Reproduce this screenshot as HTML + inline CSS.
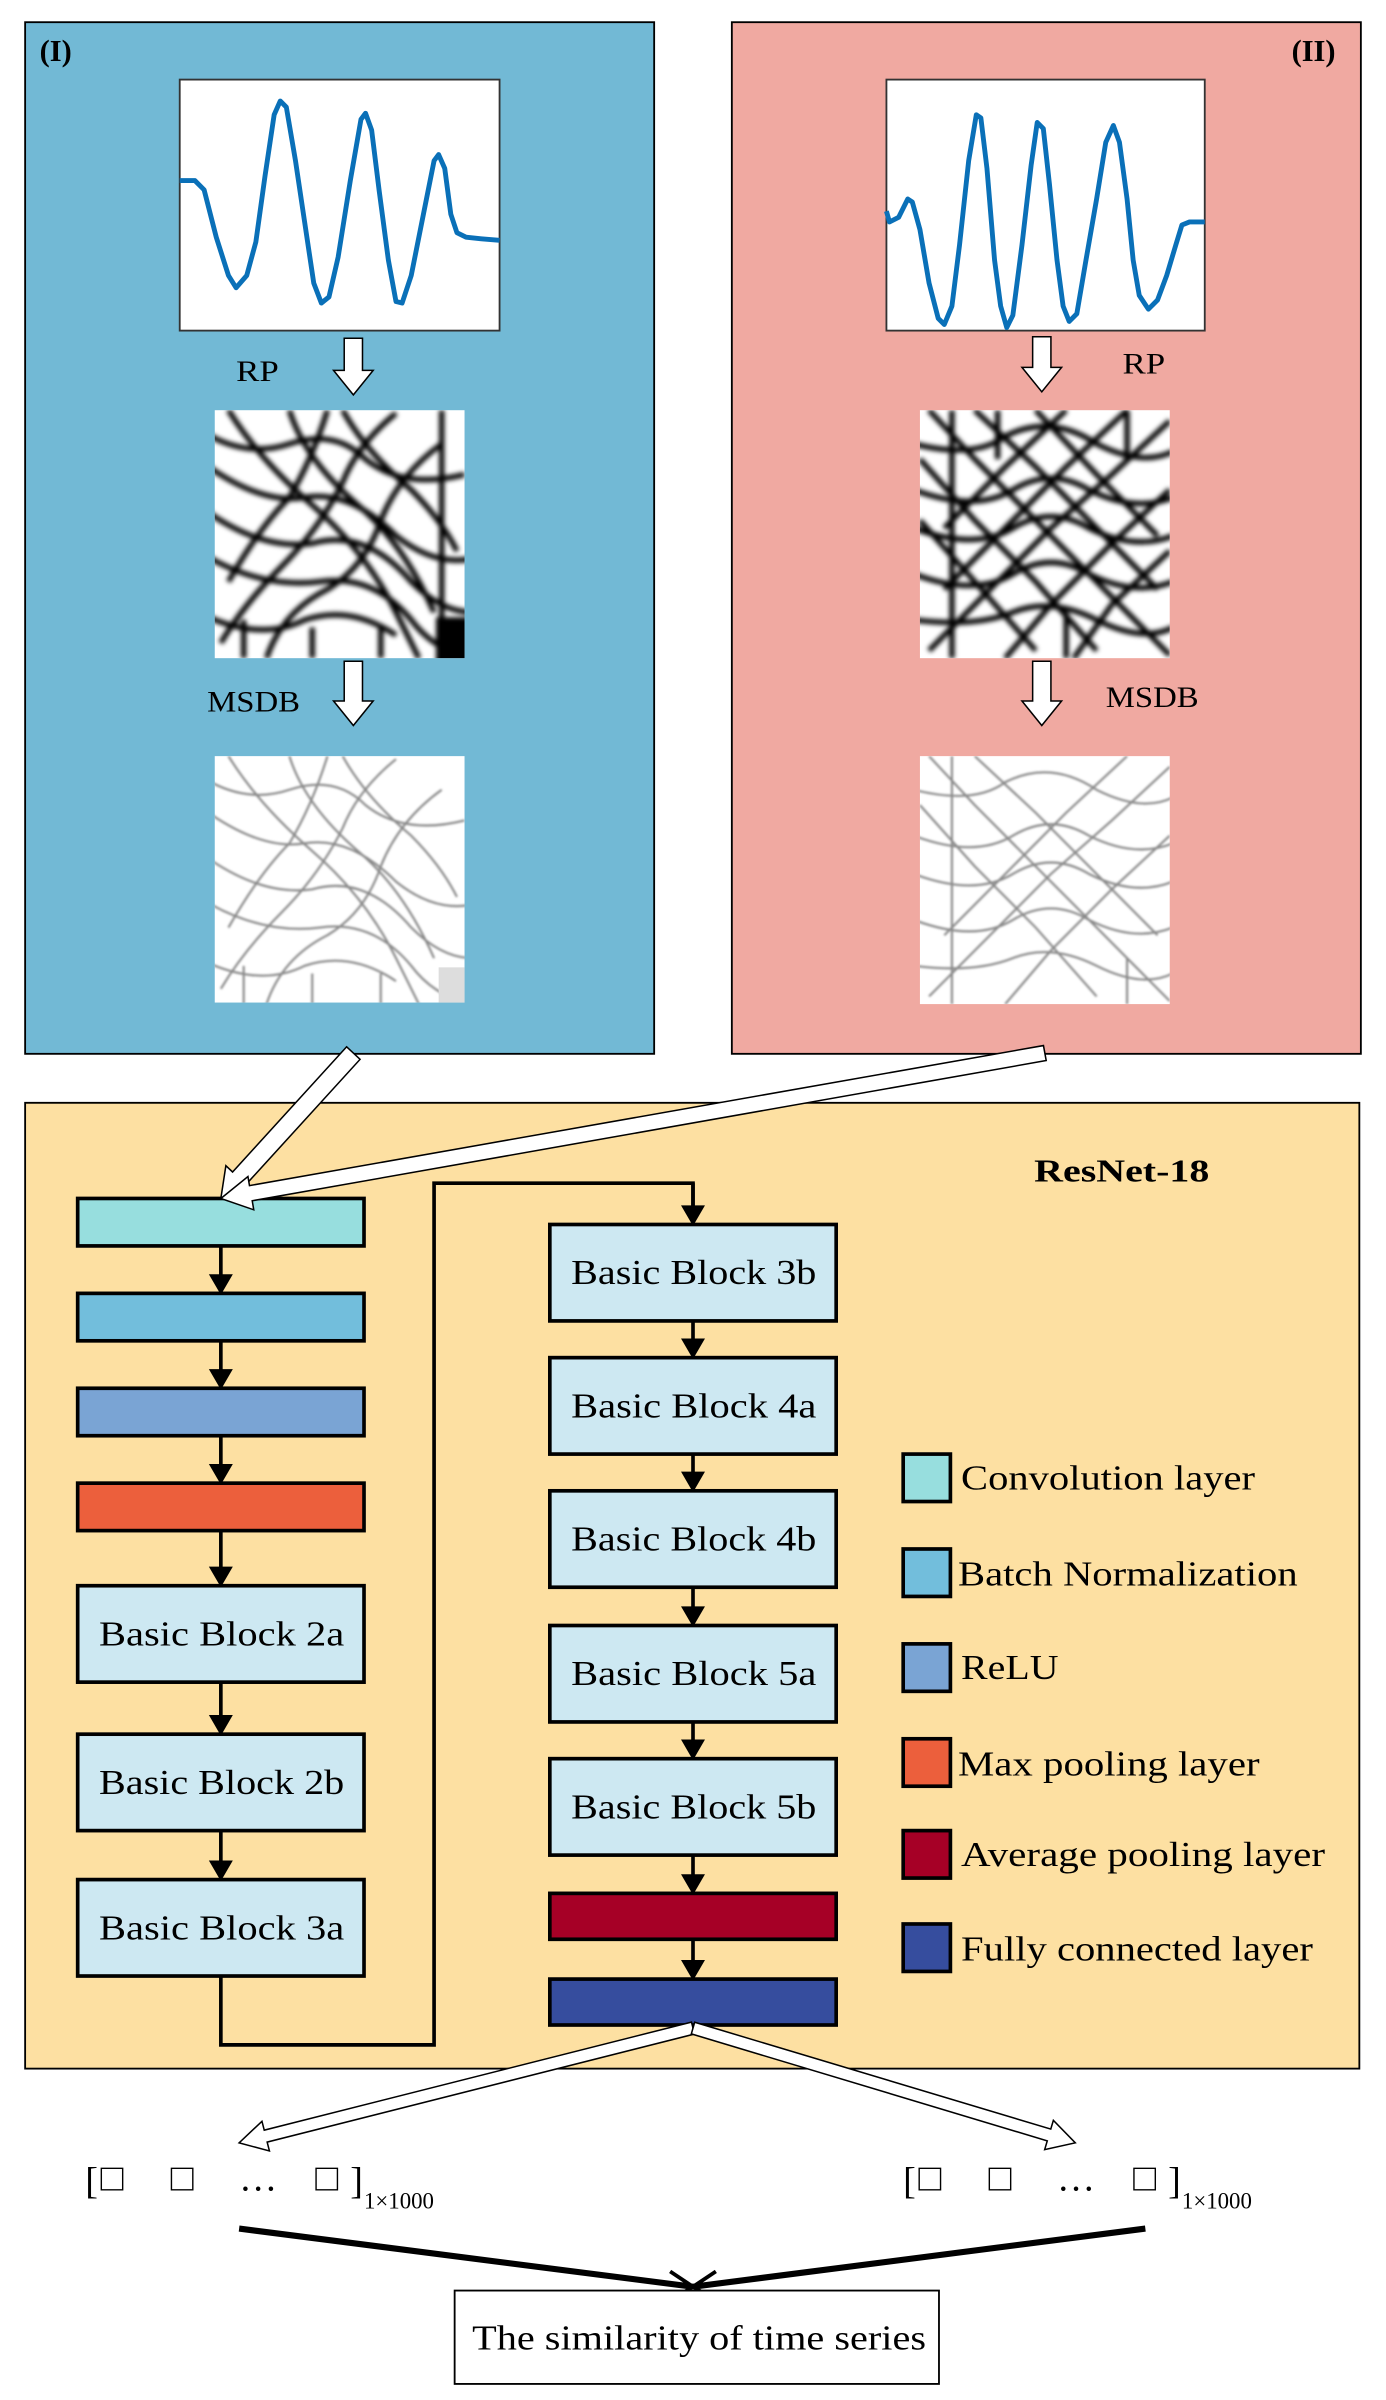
<!DOCTYPE html>
<html><head><meta charset="utf-8"><style>
html,body{margin:0;padding:0;background:#fff;}
svg{display:block;}
text{font-family:"Liberation Serif",serif;}
</style></head><body>
<svg id="s" width="1386" height="2400" viewBox="0 0 910 1568" preserveAspectRatio="none" xmlns="http://www.w3.org/2000/svg">
<defs>
<filter id="b1" x="-10%" y="-10%" width="120%" height="120%"><feGaussianBlur stdDeviation="1.6"/></filter>
<filter id="b2" x="-10%" y="-10%" width="120%" height="120%"><feGaussianBlur stdDeviation="0.7"/></filter>
<clipPath id="c1"><rect x="141" y="268" width="164" height="162"/></clipPath>
<clipPath id="c2"><rect x="141" y="494" width="164" height="161"/></clipPath>
<clipPath id="c3"><rect x="604" y="268" width="164" height="162"/></clipPath>
<clipPath id="c4"><rect x="604" y="494" width="164" height="162"/></clipPath>
</defs>
<!-- panels -->
<rect x="16.5" y="14.5" width="413" height="674" fill="#72b9d5" stroke="#000" stroke-width="1.2"/>
<rect x="480.5" y="14.5" width="413" height="674" fill="#f0a9a1" stroke="#000" stroke-width="1.2"/>
<text x="26" y="40" font-size="20" font-weight="bold">(I)</text>
<text x="848" y="40" font-size="20" font-weight="bold">(II)</text>
<!-- plots -->
<rect x="118" y="52" width="210" height="164" fill="#fff" stroke="#333" stroke-width="1.2"/>
<polyline fill="none" stroke="#0a70b8" stroke-width="3.2" stroke-linejoin="round" points="118,118 128,118 134,124 142,155 150,180 155,188 162,180 168,158 174,115 180,75 184,66 188,70 194,105 200,145 206,185 211,198 216,194 222,168 230,118 237,78 240,74 244,85 249,125 255,170 260,197 264,198 270,180 278,140 285,105 288,101 292,110 296,140 300,152 306,155 316,156 328,157"/>
<rect x="582" y="52" width="209" height="164" fill="#fff" stroke="#333" stroke-width="1.2"/>
<polyline fill="none" stroke="#0a70b8" stroke-width="3.2" stroke-linejoin="round" points="582,138 584,145 590,142 596,130 599,132 604,150 610,185 616,208 620,212 625,200 630,160 636,105 641,75 644,77 648,110 653,170 657,200 661,214 665,206 671,160 677,108 681,80 685,84 689,120 694,170 698,200 702,210 707,205 713,170 720,130 726,93 731,82 735,93 740,130 744,170 748,193 754,202 760,196 766,180 772,160 776,147 781,145 791,145"/>
<!-- images -->
<rect x="141" y="268" width="164" height="162" fill="#fff"/>
<g clip-path="url(#c1)" filter="url(#b1)" stroke="#000" stroke-width="3.5" fill="none">
<path d="M130,280 Q160,300 190,290 Q220,280 240,300 Q265,320 305,310"/>
<path d="M130,300 Q170,330 200,325 Q230,320 260,350 Q285,370 310,365"/>
<path d="M130,330 Q170,360 205,355 Q240,345 270,380 Q290,400 310,400"/>
<path d="M130,360 Q170,385 210,380 Q245,375 270,405 Q285,425 310,430"/>
<path d="M130,400 Q170,420 200,405 Q230,395 260,415"/>
<path d="M150,268 Q170,300 205,330 Q240,360 260,400 Q270,420 275,430"/>
<path d="M190,268 Q200,300 235,330 Q265,355 285,400"/>
<path d="M225,268 Q240,295 270,320 Q290,340 300,360"/>
<path d="M175,430 Q185,400 215,385 Q240,370 250,340 Q262,310 290,290"/>
<path d="M145,420 Q160,395 185,370 Q210,345 225,315 Q235,290 260,270"/>
<path d="M150,380 Q170,345 190,325 Q205,300 215,268"/>
<path d="M290,268 L290,430 M160,405 L160,430 M205,410 L205,430 M250,410 L250,430"/>
<rect x="288" y="405" width="20" height="28" fill="#000"/>
</g>
<rect x="604" y="268" width="164" height="162" fill="#fff"/>
<g clip-path="url(#c3)" filter="url(#b1)" stroke="#000" stroke-width="3.5" fill="none">
<path d="M600,290 Q640,300 660,285 Q690,270 720,290 Q750,305 770,295"/>
<path d="M600,320 Q640,335 665,320 Q690,305 715,320 Q745,335 770,325"/>
<path d="M600,345 Q640,360 665,345 Q690,330 715,345 Q745,360 770,350"/>
<path d="M600,375 Q640,390 665,375 Q690,360 715,375 Q745,390 770,380"/>
<path d="M600,405 Q640,410 665,400 Q690,390 720,405 Q750,420 770,410"/>
<path d="M610,268 L640,300 L680,340 L720,380 L768,428"/>
<path d="M640,268 L680,305 L720,345 L760,385"/>
<path d="M680,268 L720,310 L760,350"/>
<path d="M604,300 L640,340 L680,380 L720,425"/>
<path d="M604,340 L640,380 L680,425"/>
<path d="M768,275 L730,310 L690,345 L650,385 L610,425"/>
<path d="M740,268 L700,305 L660,345 L620,385"/>
<path d="M700,268 L660,305 L620,345"/>
<path d="M768,320 L730,355 L690,395 L660,430"/>
<path d="M768,360 L730,395 L705,430"/>
<path d="M625,268 L625,430 M655,268 L655,300 M700,400 L700,430 M740,268 L740,300"/>
</g>
<rect x="141" y="494" width="164" height="161" fill="#fff"/>
<g clip-path="url(#c2)" filter="url(#b2)" stroke="#888" stroke-width="1.4" fill="none">
<path d="M130,506 Q160,526 190,516 Q220,506 240,526 Q265,546 305,536"/>
<path d="M130,526 Q170,556 200,551 Q230,546 260,576 Q285,596 310,591"/>
<path d="M130,556 Q170,586 205,581 Q240,571 270,606 Q290,626 310,626"/>
<path d="M130,586 Q170,611 210,606 Q245,601 270,631 Q285,651 310,656"/>
<path d="M130,626 Q170,646 200,631 Q230,621 260,641"/>
<path d="M150,494 Q170,526 205,556 Q240,586 260,626 Q270,646 275,656"/>
<path d="M190,494 Q200,526 235,556 Q265,581 285,626"/>
<path d="M225,494 Q240,521 270,546 Q290,566 300,586"/>
<path d="M175,656 Q185,626 215,611 Q240,596 250,566 Q262,536 290,516"/>
<path d="M145,646 Q160,621 185,596 Q210,571 225,541 Q235,516 260,496"/>
<path d="M150,606 Q170,571 190,551 Q205,526 215,494"/>
<path d="M160,631 L160,656 M205,636 L205,656 M250,636 L250,656"/>
</g>
<rect x="288" y="632" width="17" height="23" fill="#ddd"/>
<rect x="604" y="494" width="164" height="162" fill="#fff"/>
<g clip-path="url(#c4)" filter="url(#b2)" stroke="#888" stroke-width="1.4" fill="none">
<path d="M600,516 Q640,526 660,511 Q690,496 720,516 Q750,531 770,521"/>
<path d="M600,546 Q640,561 665,546 Q690,531 715,546 Q745,561 770,551"/>
<path d="M600,571 Q640,586 665,571 Q690,556 715,571 Q745,586 770,576"/>
<path d="M600,601 Q640,616 665,601 Q690,586 715,601 Q745,616 770,606"/>
<path d="M600,631 Q640,636 665,626 Q690,616 720,631 Q750,646 770,636"/>
<path d="M610,494 L640,526 L680,566 L720,606 L768,654"/>
<path d="M640,494 L680,531 L720,571 L760,611"/>
<path d="M604,526 L640,566 L680,606 L720,651"/>
<path d="M768,501 L730,536 L690,571 L650,611 L610,651"/>
<path d="M740,494 L700,531 L660,571 L620,611"/>
<path d="M768,546 L730,581 L690,621 L660,656"/>
<path d="M625,494 L625,656 M740,626 L740,656"/>
</g>
<!-- labels -->
<text x="155" y="249" font-size="19" textLength="28" lengthAdjust="spacingAndGlyphs">RP</text>
<text x="136" y="465" font-size="19" textLength="61" lengthAdjust="spacingAndGlyphs">MSDB</text>
<text x="737" y="244" font-size="19" textLength="28" lengthAdjust="spacingAndGlyphs">RP</text>
<text x="726" y="462" font-size="19" textLength="61" lengthAdjust="spacingAndGlyphs">MSDB</text>
<!-- ResNet box -->
<rect x="16.5" y="720.5" width="876" height="631" fill="#fde0a2" stroke="#000" stroke-width="1.2"/>
<text x="679" y="772" font-size="21" font-weight="bold" textLength="115" lengthAdjust="spacingAndGlyphs">ResNet-18</text>
<g stroke="#000" stroke-width="2.4">
<rect x="51" y="783" width="188" height="31" fill="#97dede"/>
<rect x="51" y="845" width="188" height="31" fill="#72bedc"/>
<rect x="51" y="907" width="188" height="31" fill="#7aa4d4"/>
<rect x="51" y="969" width="188" height="31" fill="#ec5f3c"/>
<rect x="51" y="1036" width="188" height="63" fill="#cde8f2"/>
<rect x="51" y="1133" width="188" height="63" fill="#cde8f2"/>
<rect x="51" y="1228" width="188" height="63" fill="#cde8f2"/>
<rect x="361" y="800" width="188" height="63" fill="#cde8f2"/>
<rect x="361" y="887" width="188" height="63" fill="#cde8f2"/>
<rect x="361" y="974" width="188" height="63" fill="#cde8f2"/>
<rect x="361" y="1062" width="188" height="63" fill="#cde8f2"/>
<rect x="361" y="1149" width="188" height="63" fill="#cde8f2"/>
<rect x="361" y="1237" width="188" height="30" fill="#a60026"/>
<rect x="361" y="1293" width="188" height="30" fill="#364d9e"/>
<rect x="593" y="950" width="31" height="31" fill="#97dede"/>
<rect x="593" y="1012" width="31" height="31" fill="#72bedc"/>
<rect x="593" y="1074" width="31" height="31" fill="#7aa4d4"/>
<rect x="593" y="1136" width="31" height="31" fill="#ec5f3c"/>
<rect x="593" y="1196" width="31" height="31" fill="#a60026"/>
<rect x="593" y="1257" width="31" height="31" fill="#364d9e"/>
<polyline fill="none" points="145,1291 145,1336 285,1336 285,773 455,773 455,790"/>
</g>
<g id="da" stroke="#000" stroke-width="2.4" fill="#000"></g>
<g font-size="23" lengthAdjust="spacingAndGlyphs">
<text x="65" y="1075" textLength="161" lengthAdjust="spacingAndGlyphs">Basic Block 2a</text>
<text x="65" y="1172" textLength="161" lengthAdjust="spacingAndGlyphs">Basic Block 2b</text>
<text x="65" y="1267" textLength="161" lengthAdjust="spacingAndGlyphs">Basic Block 3a</text>
<text x="375" y="839" textLength="161" lengthAdjust="spacingAndGlyphs">Basic Block 3b</text>
<text x="375" y="926" textLength="161" lengthAdjust="spacingAndGlyphs">Basic Block 4a</text>
<text x="375" y="1013" textLength="161" lengthAdjust="spacingAndGlyphs">Basic Block 4b</text>
<text x="375" y="1101" textLength="161" lengthAdjust="spacingAndGlyphs">Basic Block 5a</text>
<text x="375" y="1188" textLength="161" lengthAdjust="spacingAndGlyphs">Basic Block 5b</text>
<text x="631" y="973" textLength="193" lengthAdjust="spacingAndGlyphs">Convolution layer</text>
<text x="629" y="1036" textLength="223" lengthAdjust="spacingAndGlyphs">Batch Normalization</text>
<text x="631" y="1097" textLength="64" lengthAdjust="spacingAndGlyphs">ReLU</text>
<text x="629" y="1160" textLength="198" lengthAdjust="spacingAndGlyphs">Max pooling layer</text>
<text x="631" y="1219" textLength="239" lengthAdjust="spacingAndGlyphs">Average pooling layer</text>
<text x="631" y="1281" textLength="231" lengthAdjust="spacingAndGlyphs">Fully connected layer</text>
</g>
<!-- vectors -->
<g font-size="25">
<text x="56" y="1433">[</text><text x="66" y="1431">□</text><text x="112" y="1431">□</text><text x="157" y="1431">…</text><text x="207" y="1431">□</text><text x="230" y="1433">]</text>
<text x="239" y="1443" font-size="15">1×1000</text>
<text x="593" y="1433">[</text><text x="603" y="1431">□</text><text x="649" y="1431">□</text><text x="694" y="1431">…</text><text x="744" y="1431">□</text><text x="767" y="1433">]</text>
<text x="776" y="1443" font-size="15">1×1000</text>
</g>
<g stroke="#000" stroke-width="4" fill="none">
<line x1="157" y1="1456" x2="455" y2="1494"/>
<line x1="752" y1="1456" x2="455" y2="1494"/>
<path d="M440,1484 L455,1494 L442,1502 M470,1484 L455,1494 L468,1502" stroke-width="2.5"/>
</g>
<rect x="298.5" y="1496.5" width="318" height="61" fill="#fff" stroke="#000" stroke-width="1.2"/>
<text x="310" y="1535" font-size="23" textLength="298" lengthAdjust="spacingAndGlyphs">The similarity of time series</text>
<script>
(function(){
var ns="http://www.w3.org/2000/svg";
function arrow(x1,y1,x2,y2,w,hw,hl,parent){
 var dx=x2-x1,dy=y2-y1,L=Math.sqrt(dx*dx+dy*dy),ux=dx/L,uy=dy/L,nx=-uy,ny=ux;
 var bx=x2-ux*hl,by=y2-uy*hl;
 var p=[[x1+nx*w,y1+ny*w],[bx+nx*w,by+ny*w],[bx+nx*hw,by+ny*hw],[x2,y2],[bx-nx*hw,by-ny*hw],[bx-nx*w,by-ny*w],[x1-nx*w,y1-ny*w]];
 var e=document.createElementNS(ns,'polygon');
 e.setAttribute('points',p.map(function(q){return q[0].toFixed(1)+','+q[1].toFixed(1)}).join(' '));
 parent.appendChild(e);
}
var svg=document.getElementById('s');
var top=document.createElementNS(ns,'g');top.setAttribute('fill','#fff');top.setAttribute('stroke','#000');top.setAttribute('stroke-width','1');
svg.appendChild(top);
arrow(232,221,232,258,6,13,16,top);
arrow(232,432,232,474,6,13,16,top);
arrow(684,220,684,256,6,13,16,top);
arrow(684,432,684,474,6,13,16,top);
arrow(232,688,145,783,6,12,18,top);
arrow(686,688,145,783,5,11,20,top);
arrow(455,1325,157,1400,4,10,18,top);
arrow(455,1325,706,1400,4,10,18,top);
var da=document.getElementById('da');
function darr(x,y1,y2){
 var l=document.createElementNS(ns,'line');l.setAttribute('x1',x);l.setAttribute('x2',x);l.setAttribute('y1',y1);l.setAttribute('y2',y2-8);da.appendChild(l);
 var p=document.createElementNS(ns,'polygon');p.setAttribute('points',(x-7)+','+(y2-12)+' '+(x+7)+','+(y2-12)+' '+x+','+y2);p.setAttribute('stroke-width','1');da.appendChild(p);
}
darr(145,814,845);darr(145,876,907);darr(145,938,969);darr(145,1000,1036);darr(145,1099,1133);darr(145,1196,1228);
darr(455,773,800);darr(455,863,887);darr(455,950,974);darr(455,1037,1062);darr(455,1125,1149);darr(455,1212,1237);darr(455,1267,1293);
})();
</script>
</svg>
</body></html>
